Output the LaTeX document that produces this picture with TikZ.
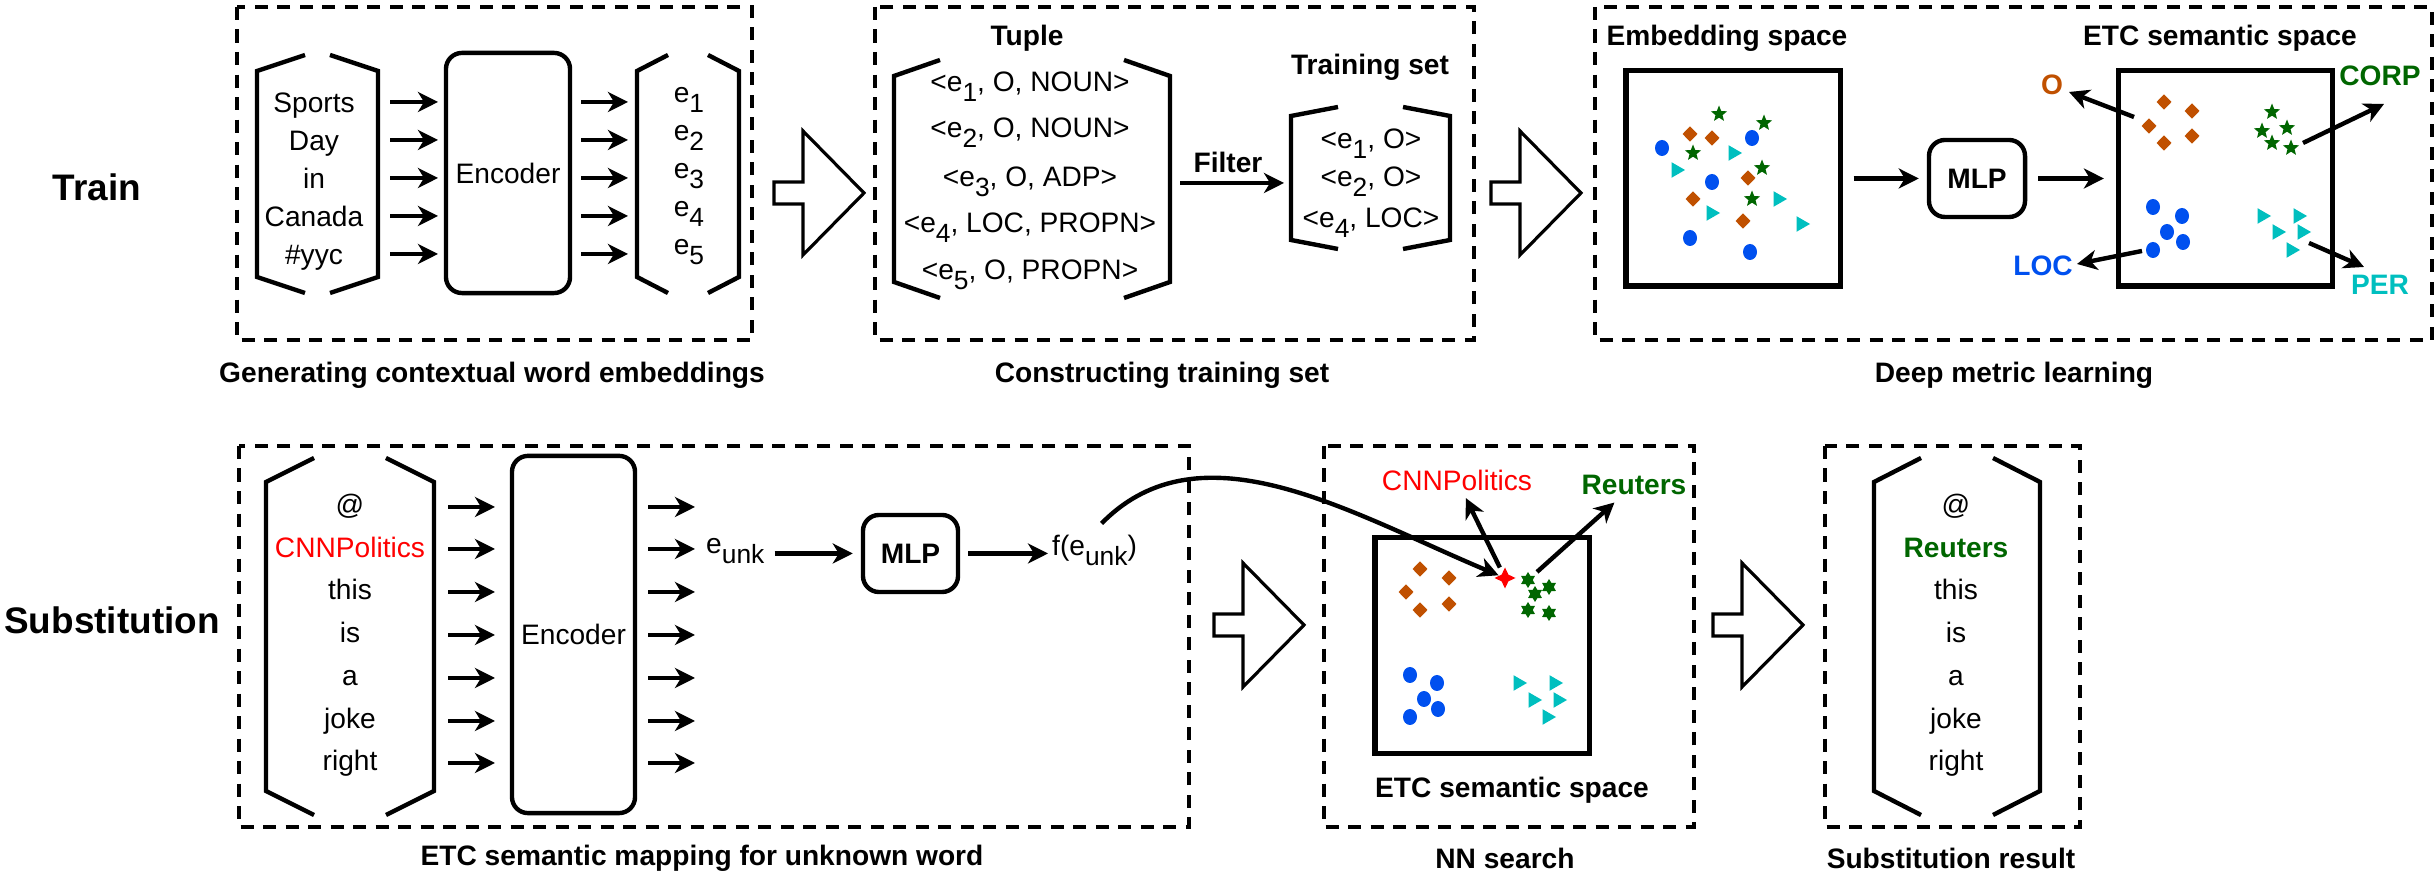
\documentclass[tikz,border=0pt]{standalone}
\usepackage{fontspec}
\setmainfont{Liberation Sans}
\usetikzlibrary{arrows.meta,shapes.geometric}

\definecolor{ocol}{RGB}{192,80,0}
\definecolor{corpcol}{RGB}{0,102,0}
\definecolor{loccol}{RGB}{0,80,239}
\definecolor{percol}{RGB}{0,191,191}

% lowered subscript, nearly full size
\newcommand{\subtxt}[1]{\raisebox{-0.35em}{\fontsize{7.5}{7.5}\selectfont #1}}
% open hexagonal bracket: xl, xr, ytop, ybot, inset, shoulder
\newcommand{\seqbracket}[6]{%
  \draw[bracketline] ({#1+#5},#3) -- (#1,{#3+#6}) -- (#1,{#4-#6}) -- ({#1+#5},#4);
  \draw[bracketline] ({#2-#5},#3) -- (#2,{#3+#6}) -- (#2,{#4-#6}) -- ({#2-#5},#4);}
% hollow block arrow: shaft left x, centre y
\newcommand{\blockarrow}[2]{%
  \draw[blockline] (#1,{#2-11}) -- ({#1+29},{#2-11}) -- ({#1+29},{#2-62}) -- ({#1+90},#2)
    -- ({#1+29},{#2+62}) -- ({#1+29},{#2+11}) -- (#1,{#2+11}) -- cycle;}

\begin{document}
\begin{tikzpicture}
    [x=0.01cm, y=-0.01cm,
    font=\fontsize{8}{9.6}\selectfont,
    arr/.style={-{Stealth[length=0.2cm, width=0.2cm, inset=0.06cm]}, line width=1.25pt},
    dashbox/.style={line width=1.05pt, dash pattern=on 3.7pt off 2.7pt},
    bracketline/.style={line width=1.25pt},
    blockline/.style={line width=0.9pt},
    roundbox/.style={draw, line width=1.25pt, rounded corners=0.16cm, inner sep=0pt},
    spacebox/.style={draw, line width=1.45pt, inner sep=0pt, minimum width=2.14cm, minimum height=2.15cm},
    word/.style={inner sep=1pt, text height=6pt, text depth=1.5pt},
    bold/.style={font=\fontsize{8}{9.6}\selectfont\bfseries},
    rowlabel/.style={font=\fontsize{10.5}{12}\selectfont\bfseries},
    pdia/.style={diamond, fill=ocol, inner sep=0pt, minimum width=0.155cm, minimum height=0.16cm},
    pdot/.style={ellipse, fill=loccol, inner sep=0pt, minimum width=0.14cm, minimum height=0.16cm},
    pstar/.style={star, star points=5, star point ratio=2.3, fill=corpcol, inner sep=0pt, minimum size=0.17cm},
    phex/.style={star, star points=6, star point ratio=1.7, fill=corpcol, inner sep=0pt, minimum size=0.16cm},
    ptri/.style={regular polygon, regular polygon sides=3, shape border rotate=-90, fill=percol, inner sep=0pt, minimum size=0.18cm},
    punk/.style={star, star points=4, star point ratio=2.2, fill=red, inner sep=0pt, minimum size=0.21cm}]
        \useasboundingbox (0,0) rectangle (2436,874);

        %% frames
        \draw[dashbox] (237,7) rectangle (752,340);
        \draw[dashbox] (875,7) rectangle (1474,340);
        \draw[dashbox] (1595,7) rectangle (2432,340);
        \draw[dashbox] (239,446) rectangle (1189,827);
        \draw[dashbox] (1324,446) rectangle (1694,827);
        \draw[dashbox] (1825,446) rectangle (2080,827);

        \node[rowlabel] (train) at (97,187) {Train};
        \node[rowlabel] (subst) at (112,620) {Substitution};

        %% Generating contextual word embeddings
        \seqbracket{257}{378}{55}{293}{48}{16}
        \node[word] (w1) at (314,105) {Sports};
        \node[word] (w2) at (314,143) {Day};
        \node[word] (w3) at (314,181) {in};
        \node[word] (w4) at (314,219) {Canada};
        \node[word] (w5) at (314,257) {\#yyc};
        \foreach \y [count=\i] in {102,140,178,216,254} {
            \coordinate (ia\i) at (390,\y);
            \coordinate (ib\i) at (438,\y);
            \coordinate (oa\i) at (581,\y);
            \coordinate (ob\i) at (628,\y);
            \draw[arr] (ia\i) -- (ib\i);
            \draw[arr] (oa\i) -- (ob\i);
        }
        \node[roundbox, minimum width=1.24cm, minimum height=2.40cm] (enc1) at (508,173) {Encoder};
        \seqbracket{637}{739}{55}{293}{31}{16}
        \node[word] (e1) at (689,95) {e\subtxt{1}};
        \node[word] (e2) at (689,133) {e\subtxt{2}};
        \node[word] (e3) at (689,171) {e\subtxt{3}};
        \node[word] (e4) at (689,209) {e\subtxt{4}};
        \node[word] (e5) at (689,247) {e\subtxt{5}};
        \node[bold] (cap1) at (492,375) {Generating contextual word embeddings};

        %% Constructing training set
        \blockarrow{774}{193}
        \node[bold] (tuplehead) at (1027,38) {Tuple};
        \seqbracket{894}{1170}{60}{298}{46}{16}
        \node[word] (t1) at (1030,84) {<e\subtxt{1}, O, NOUN>};
        \node[word] (t2) at (1030,130) {<e\subtxt{2}, O, NOUN>};
        \node[word] (t3) at (1030,179) {<e\subtxt{3}, O, ADP>};
        \node[word] (t4) at (1030,225) {<e\subtxt{4}, LOC, PROPN>};
        \node[word] (t5) at (1030,272) {<e\subtxt{5}, O, PROPN>};
        \node[bold] (filter) at (1228,162) {Filter};
        \coordinate (fa) at (1180,183);
        \coordinate (fb) at (1284,183);
        \draw[arr] (fa) -- (fb);
        \node[bold] (trainhead) at (1370,67) {Training set};
        \seqbracket{1291}{1450}{107}{249}{47}{9}
        \node[word] (s1) at (1371,141) {<e\subtxt{1}, O>};
        \node[word] (s2) at (1371,179) {<e\subtxt{2}, O>};
        \node[word] (s3) at (1371,220) {<e\subtxt{4}, LOC>};
        \node[bold] (cap2) at (1162,375) {Constructing training set};

        %% Deep metric learning
        \blockarrow{1491}{193}
        \node[bold] (embhead) at (1727,38) {Embedding space};
        \node[spacebox] (embsq) at (1733,178.5) {};
        \node[roundbox, bold, minimum width=0.96cm, minimum height=0.77cm] (mlp1) at (1977,178.5) {MLP};
        \node[spacebox] (etcsq) at (2225.5,178.5) {};
        \draw[arr, shorten <=0.11cm, shorten >=0.08cm] (embsq) -- (mlp1);
        \draw[arr, shorten <=0.11cm, shorten >=0.12cm] (mlp1) -- (etcsq);
        \node[bold] (etchead) at (2220,38) {ETC semantic space};
        % embedding space, mixed
        \foreach \p [count=\i] in {(1719,114),(1764,123),(1693,153),(1762,168),(1752,199)}
            \node[pstar] (ms\i) at \p {};
        \foreach \p [count=\i] in {(1690,134),(1712,138),(1748,178),(1693,199),(1743,221)}
            \node[pdia] (md\i) at \p {};
        \foreach \p [count=\i] in {(1662,148),(1752,138),(1712,182),(1690,238),(1750,252)}
            \node[pdot] (mc\i) at \p {};
        \foreach \p [count=\i] in {(1733,153),(1676,170),(1778,199),(1711,213),(1801,224)}
            \node[ptri] (mt\i) at \p {};
        % ETC semantic space, clustered
        \foreach \p [count=\i] in {(2164,102),(2192,111),(2149,126),(2192,136),(2164,143)}
            \node[pdia] (ed\i) at \p {};
        \foreach \p [count=\i] in {(2272,112),(2262,131),(2287,128),(2272,143),(2291,148)}
            \node[pstar] (es\i) at \p {};
        \foreach \p [count=\i] in {(2153,207),(2182,216),(2167,232),(2183,242),(2153,250)}
            \node[pdot] (ec\i) at \p {};
        \foreach \p [count=\i] in {(2262,216),(2298,216),(2277,232),(2302,232),(2291,250)}
            \node[ptri] (et\i) at \p {};
        \node[bold, text=ocol] (olab) at (2052,85) {O};
        \node[bold, text=corpcol] (corplab) at (2380,76) {CORP};
        \node[bold, text=loccol] (loclab) at (2043,266) {LOC};
        \node[bold, text=percol] (perlab) at (2380,285) {PER};
        \coordinate (otail) at (2134,117);
        \coordinate (otip) at (2069,92);
        \coordinate (corptail) at (2303,143);
        \coordinate (corptip) at (2384,104);
        \coordinate (loctail) at (2142,251);
        \coordinate (loctip) at (2077,264);
        \coordinate (pertail) at (2309,243);
        \coordinate (pertip) at (2364,267);
        \draw[arr] (otail) -- (otip);
        \draw[arr] (corptail) -- (corptip);
        \draw[arr] (loctail) -- (loctip);
        \draw[arr] (pertail) -- (pertip);
        \node[bold] (cap3) at (2014,375) {Deep metric learning};

        %% ETC semantic mapping for unknown word
        \seqbracket{266}{434}{458}{815}{48}{24}
        \node[word] (u1) at (350,507) {@};
        \node[word, text=red] (u2) at (350,550) {CNNPolitics};
        \node[word] (u3) at (350,592) {this};
        \node[word] (u4) at (350,635) {is};
        \node[word] (u5) at (350,678) {a};
        \node[word] (u6) at (350,721) {joke};
        \node[word] (u7) at (350,763) {right};
        \foreach \y [count=\i] in {507,549,592,635,678,721,763} {
            \coordinate (ja\i) at (448,\y);
            \coordinate (jb\i) at (495,\y);
            \coordinate (pa\i) at (648,\y);
            \coordinate (pb\i) at (695,\y);
            \draw[arr] (ja\i) -- (jb\i);
            \draw[arr] (pa\i) -- (pb\i);
        }
        \node[roundbox, minimum width=1.23cm, minimum height=3.57cm] (enc2) at (573.5,634.5) {Encoder};
        \node[word, anchor=west] (eunk) at (702,546) {e\subtxt{unk}};
        \node[roundbox, bold, minimum width=0.95cm, minimum height=0.77cm] (mlp2) at (910.5,553.5) {MLP};
        \node[word, anchor=west] (feunk) at (1048,548) {f(e\subtxt{unk})};
        \draw[arr, shorten <=0.06cm, shorten >=0.08cm] (eunk.east |- mlp2) -- (mlp2.west);
        \draw[arr, shorten <=0.08cm] (mlp2.east) -- (feunk.west |- mlp2);
        \node[bold] (cap4) at (702,858) {ETC semantic mapping for unknown word};

        %% NN search
        \blockarrow{1214}{625}
        \node[spacebox] (nnsq) at (1482,645.5) {};
        \foreach \p [count=\i] in {(1420,569),(1449,578),(1406,592),(1449,604),(1420,610)}
            \node[pdia] (nd\i) at \p {};
        \foreach \p [count=\i] in {(1528,580),(1549,587),(1535,594),(1528,610),(1549,613)}
            \node[phex] (nh\i) at \p {};
        \foreach \p [count=\i] in {(1410,675),(1437,683),(1424,699),(1438,709),(1410,717)}
            \node[pdot] (nc\i) at \p {};
        \foreach \p [count=\i] in {(1518,683),(1554,683),(1533,700),(1558,700),(1547,717)}
            \node[ptri] (nt\i) at \p {};
        \node[punk] (unk) at (1505,578) {};
        \node[text=red, inner sep=2pt] (cnn) at (1457,480) {CNNPolitics};
        \node[bold, text=corpcol, inner sep=2pt] (reuters) at (1634,485) {Reuters};
        \draw[arr, shorten <=0.05cm] (unk) -- (cnn);
        \draw[arr, shorten <=0.05cm] (nh1) -- (reuters);
        \draw[arr, shorten <=0.1cm] (feunk.north) .. controls (1201,422) and (1350,513) .. (unk);
        \node[bold] (nnhead) at (1512,790) {ETC semantic space};
        \node[bold] (cap5) at (1505,858) {NN search};

        %% Substitution result
        \blockarrow{1713}{625}
        \seqbracket{1874}{2040}{458}{815}{47}{24}
        \node[word] (r1) at (1956,507) {@};
        \node[word, bold, text=corpcol] (r2) at (1956,550) {Reuters};
        \node[word] (r3) at (1956,592) {this};
        \node[word] (r4) at (1956,635) {is};
        \node[word] (r5) at (1956,678) {a};
        \node[word] (r6) at (1956,721) {joke};
        \node[word] (r7) at (1956,763) {right};
        \node[bold] (cap6) at (1951,858) {Substitution result};
    \end{tikzpicture}
\end{document}
